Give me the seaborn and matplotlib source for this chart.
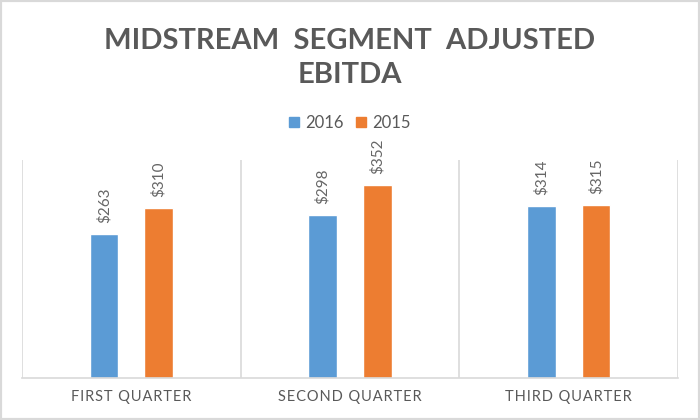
import matplotlib.pyplot as plt
import pandas as pd
import seaborn as sns
from matplotlib.patches import Patch, Rectangle

quarters = ["FIRST QUARTER", "SECOND QUARTER", "THIRD QUARTER"]
years = ["2016", "2015"]
ebitda_2016 = [263, 298, 314]
ebitda_2015 = [310, 352, 315]

colors = {"2016": "#5B9BD5", "2015": "#ED7D31"}
grey = "#595959"
line_grey = "#D9D9D9"

df = pd.DataFrame({
    "quarter": quarters * 2,
    "year": ["2016"] * 3 + ["2015"] * 3,
    "value": ebitda_2016 + ebitda_2015,
})

sns.set_style("white")
plt.rcParams['font.family'] = ['Lato', 'DejaVu Sans']


def spaced(txt):
    # fake the letter spacing of the axis labels with hair spaces
    return "\u200a".join(txt)


fig = plt.figure(figsize=(7, 4.2), dpi=100)
ax = fig.add_axes([22 / 700, 1 - 378 / 420, 656 / 700, 218 / 420])

sns.barplot(data=df, x="quarter", y="value", hue="year", hue_order=years,
            palette=colors, width=0.5, gap=0.47, saturation=1, ax=ax, legend=False)

for cont, vals in zip(ax.containers, [ebitda_2016, ebitda_2015]):
    ax.bar_label(cont, labels=[f"\\${v}" for v in vals], rotation=90, padding=8,
                 color="#666666", fontsize=11)

ax.set_xlim(-0.5, 2.5)
ax.set_ylim(0, 398)
for x in [-0.5, 0.5, 1.5, 2.5]:
    ax.axvline(x, color=line_grey, lw=1.2, zorder=0)
for s in ["top", "left", "right"]:
    ax.spines[s].set_visible(False)
ax.spines["bottom"].set_color(line_grey)
ax.spines["bottom"].set_linewidth(1.2)
ax.set_yticks([])
ax.set_xlabel("")
ax.set_ylabel("")
ax.set_xticks(range(len(quarters)))
ax.set_xticklabels([spaced(q) for q in quarters])
ax.tick_params(axis="x", length=0, pad=9, labelsize=10.5, labelcolor=grey)

handles = [Patch(color=colors[y], label=y) for y in years]
fig.legend(handles=handles, loc="center", bbox_to_anchor=(0.5, 1 - 123 / 420), ncol=2,
           frameon=False, handlelength=0.6, handleheight=0.6, handletextpad=0.4,
           columnspacing=0.7, labelcolor=grey, prop={"size": 12})

fig.text(0.5, 1 - 58 / 420, "MIDSTREAM  SEGMENT  ADJUSTED\nEBITDA", ha="center", va="center",
         fontsize=21, fontweight="bold", color=grey, linespacing=1.4)

fig.patches.append(Rectangle((0, 0), 1, 1, transform=fig.transFigure, fill=False,
                             edgecolor=line_grey, lw=3))

fig.savefig("out.png", dpi=100)
